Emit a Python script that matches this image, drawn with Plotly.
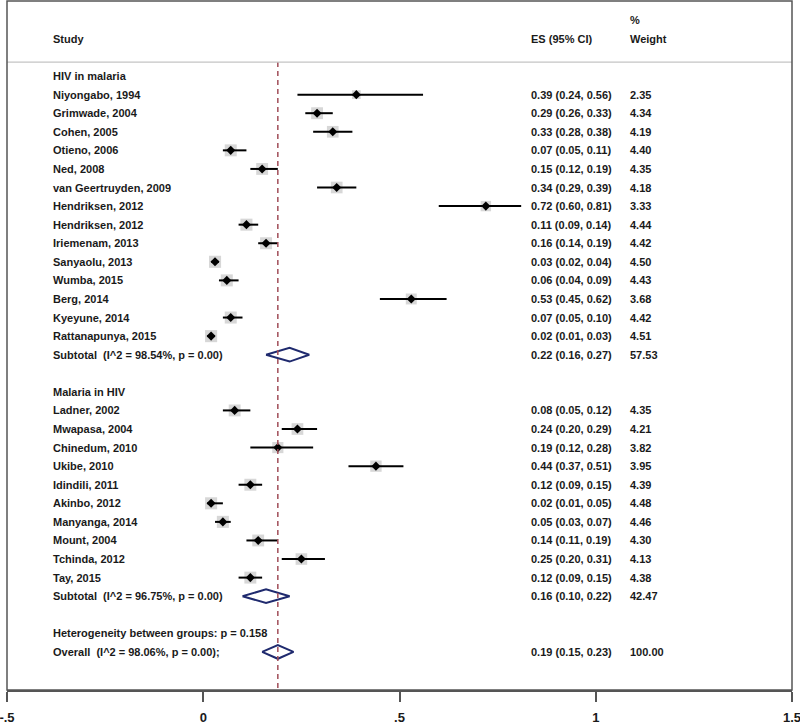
import plotly.graph_objects as go

# study rows: label, estimate, lower, upper, weight
group1_labels = ["Niyongabo, 1994", "Grimwade, 2004", "Cohen, 2005", "Otieno, 2006", "Ned, 2008",
                 "van Geertruyden, 2009", "Hendriksen, 2012", "Hendriksen, 2012", "Iriemenam, 2013",
                 "Sanyaolu, 2013", "Wumba, 2015", "Berg, 2014", "Kyeyune, 2014", "Rattanapunya, 2015"]
group1_es = [0.39, 0.29, 0.33, 0.07, 0.15, 0.34, 0.72, 0.11, 0.16, 0.03, 0.06, 0.53, 0.07, 0.02]
group1_lo = [0.24, 0.26, 0.28, 0.05, 0.12, 0.29, 0.60, 0.09, 0.14, 0.02, 0.04, 0.45, 0.05, 0.01]
group1_hi = [0.56, 0.33, 0.38, 0.11, 0.19, 0.39, 0.81, 0.14, 0.19, 0.04, 0.09, 0.62, 0.10, 0.03]
group1_wt = [2.35, 4.34, 4.19, 4.40, 4.35, 4.18, 3.33, 4.44, 4.42, 4.50, 4.43, 3.68, 4.42, 4.51]

group2_labels = ["Ladner, 2002", "Mwapasa, 2004", "Chinedum, 2010", "Ukibe, 2010", "Idindili, 2011",
                 "Akinbo, 2012", "Manyanga, 2014", "Mount, 2004", "Tchinda, 2012", "Tay, 2015"]
group2_es = [0.08, 0.24, 0.19, 0.44, 0.12, 0.02, 0.05, 0.14, 0.25, 0.12]
group2_lo = [0.05, 0.20, 0.12, 0.37, 0.09, 0.01, 0.03, 0.11, 0.20, 0.09]
group2_hi = [0.12, 0.29, 0.28, 0.51, 0.15, 0.05, 0.07, 0.19, 0.31, 0.15]
group2_wt = [4.35, 4.21, 3.82, 3.95, 4.39, 4.48, 4.46, 4.30, 4.13, 4.38]

# pooled rows: label, estimate, lower, upper, weight
pooled_labels = ["Subtotal  (I^2 = 98.54%, p = 0.00)", "Subtotal  (I^2 = 96.75%, p = 0.00)",
                 "Overall  (I^2 = 98.06%, p = 0.00);"]
pooled_es = [0.22, 0.16, 0.19]
pooled_lo = [0.16, 0.10, 0.15]
pooled_hi = [0.27, 0.22, 0.23]
pooled_wt = [57.53, 42.47, 100.00]

group_titles = ["HIV in malaria", "Malaria in HIV"]
heterogeneity_text = "Heterogeneity between groups: p = 0.158"

tick_vals = [-0.5, 0, 0.5, 1, 1.5]
tick_text = ["-.5", "0", ".5", "1", "1.5"]

TEXT = "#1a1a1a"
FONT = "Liberation Sans, Arial, sans-serif"
BOX_GREY = "#c6c6c6"
NAVY = "#1f2a6e"
REF_RED = "#a04d58"
FRAME = "#555555"

# row layout (0 = first group title, one row per line)
g1_rows = list(range(1, 1 + len(group1_labels)))
sub1_row = g1_rows[-1] + 1
g2_title_row = sub1_row + 2
g2_rows = list(range(g2_title_row + 1, g2_title_row + 1 + len(group2_labels)))
sub2_row = g2_rows[-1] + 1
het_row = sub2_row + 2
overall_row = het_row + 1
pooled_rows = [sub1_row, sub2_row, overall_row]

study_labels = group1_labels + group2_labels
study_es = group1_es + group2_es
study_lo = group1_lo + group2_lo
study_hi = group1_hi + group2_hi
study_wt = group1_wt + group2_wt
study_rows = g1_rows + g2_rows

fig = go.Figure()

# weight boxes
fig.add_trace(go.Scatter(
    x=study_es, y=study_rows, mode="markers",
    marker=dict(symbol="square", size=[5.7 * w ** 0.5 for w in study_wt], color=BOX_GREY,
                line=dict(width=0)),
    hoverinfo="skip", showlegend=False,
))
# point estimates + confidence intervals
fig.add_trace(go.Scatter(
    x=study_es, y=study_rows, mode="markers",
    marker=dict(symbol="diamond", size=7, color="black"),
    error_x=dict(type="data", symmetric=False,
                 array=[h - e for h, e in zip(study_hi, study_es)],
                 arrayminus=[e - l for e, l in zip(study_es, study_lo)],
                 width=0, thickness=2, color="black"),
    showlegend=False,
))

# pooled diamonds
half_h = 0.37
for e, lo, hi, r in zip(pooled_es, pooled_lo, pooled_hi, pooled_rows):
    fig.add_trace(go.Scatter(
        x=[lo, e, hi, e, lo], y=[r, r - half_h, r, r + half_h, r],
        mode="lines", line=dict(color=NAVY, width=2), showlegend=False, hoverinfo="skip",
    ))

# overall reference line
fig.add_shape(type="line", xref="x", yref="y", x0=pooled_es[2], x1=pooled_es[2], y0=-0.75, y1=33.05,
              line=dict(color=REF_RED, width=1.5, dash="5px,4px"))
# header separator
fig.add_shape(type="line", xref="paper", yref="y", x0=0, x1=1, y0=-0.75, y1=-0.75,
              line=dict(color="#c4c4c4", width=1.2))
# frame
fig.add_shape(type="rect", xref="paper", yref="paper", x0=0, x1=1, y0=0, y1=1,
              line=dict(color=FRAME, width=1.5))

LABEL_X = 0.0561
ES_X = 0.665
WT_X = 0.7911


def txt(x, y, s):
    fig.add_annotation(x=x, y=y, xref="paper", yref="y", text=s.replace("  ", "\u00a0\u00a0"),
                       showarrow=False, xanchor="left", yanchor="middle",
                       font=dict(family=FONT, size=11, color=TEXT, weight="bold"))


def ci_text(e, lo, hi):
    return f"{e:.2f} ({lo:.2f}, {hi:.2f})"


txt(LABEL_X, -2, "Study")
txt(ES_X, -2, "ES (95% CI)")
txt(WT_X, -3, "%")
txt(WT_X, -2, "Weight")

txt(LABEL_X, 0, group_titles[0])
txt(LABEL_X, g2_title_row, group_titles[1])
txt(LABEL_X, het_row, heterogeneity_text)

for lab, e, lo, hi, w, r in zip(study_labels, study_es, study_lo, study_hi, study_wt, study_rows):
    txt(LABEL_X, r, lab)
    txt(ES_X, r, ci_text(e, lo, hi))
    txt(WT_X, r, f"{w:.2f}")

for lab, e, lo, hi, w, r in zip(pooled_labels, pooled_es, pooled_lo, pooled_hi, pooled_wt, pooled_rows):
    txt(LABEL_X, r, lab)
    txt(ES_X, r, ci_text(e, lo, hi))
    txt(WT_X, r, f"{w:.2f}")

fig.update_layout(
    width=800, height=724,
    paper_bgcolor="white", plot_bgcolor="white",
    margin=dict(l=7, r=8, t=1, b=34),
    showlegend=False,
    font=dict(family=FONT, color=TEXT),
)
fig.update_xaxes(
    range=[-0.5, 1.5], tickvals=tick_vals, ticktext=tick_text, automargin=False,
    ticklabeloverflow="allow", ticklabelstandoff=4,
    showgrid=False, zeroline=False, showline=True, linecolor=FRAME, linewidth=2,
    ticks="outside", ticklen=10, tickwidth=1.5, tickcolor=FRAME,
    tickfont=dict(family=FONT, size=13, color=TEXT, weight="bold"),
)
fig.update_yaxes(range=[33.05, -4.04], showgrid=False, zeroline=False, showticklabels=False,
                 showline=False, automargin=False)

# the page's default 8px body margin would shift the whole chart
fig.write_html("out.html", config={"displayModeBar": False},
               post_script="document.body.style.margin = '0';")
